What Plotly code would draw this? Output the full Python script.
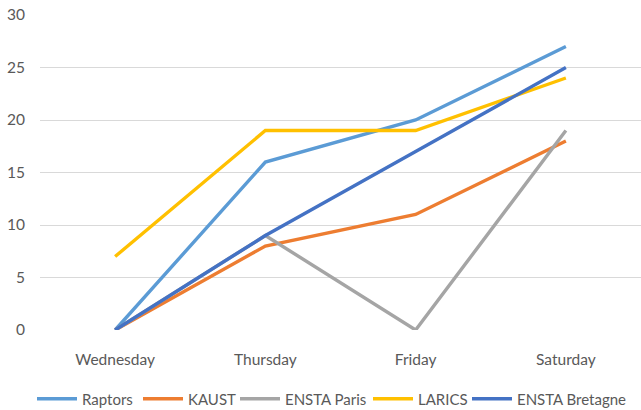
import plotly.graph_objects as go

days = ["Wednesday", "Thursday", "Friday", "Saturday"]

raptors = [0, 16, 20, 27]
kaust = [0, 8, 11, 18]
ensta_paris = [0, 9, 0, 19]
larics = [7, 19, 19, 24]
ensta_bretagne = [0, 9, 17, 25]

series = [
    ("Raptors", raptors, "#5B9BD5"),
    ("KAUST", kaust, "#ED7D31"),
    ("ENSTA Paris", ensta_paris, "#A5A5A5"),
    ("LARICS", larics, "#FFC000"),
    ("ENSTA Bretagne", ensta_bretagne, "#4472C4"),
]

# left edge (px) of each legend entry along the bottom row
legend_left = [32, 138, 235, 368, 467]

font = dict(family="Lato, Open Sans, sans-serif", size=15.5, color="#595959")
legend_font = dict(family="Lato, Open Sans, sans-serif", size=15, color="#595959")

fig = go.Figure()
legends = {}
for i, (name, vals, color) in enumerate(series):
    key = "legend" if i == 0 else f"legend{i + 1}"
    fig.add_trace(go.Scatter(
        x=days, y=vals, name=name, mode="lines",
        line=dict(color=color, width=3.4), legend=key,
    ))
    legends[key] = dict(
        orientation="h",
        xref="container", x=legend_left[i] / 641, xanchor="left",
        yref="container", y=0.027, yanchor="middle",
        font=legend_font, itemwidth=40,
        bgcolor="rgba(0,0,0,0)",
    )

fig.update_layout(
    width=641, height=410,
    margin=dict(l=40, r=0, t=15, b=80, autoexpand=False),
    paper_bgcolor="white", plot_bgcolor="white",
    font=font,
    showlegend=True,
    xaxis=dict(
        type="category", range=[-0.5, 3.5],
        showgrid=False, zeroline=False, showline=False,
        ticks="", ticklabelstandoff=18,
    ),
    yaxis=dict(
        range=[0, 30], dtick=5, showgrid=True, gridcolor="#D9D9D9", gridwidth=1,
        zeroline=False, showline=False, ticks="", ticklabelstandoff=14,
    ),
    **legends,
)

fig.write_html("out.html")
